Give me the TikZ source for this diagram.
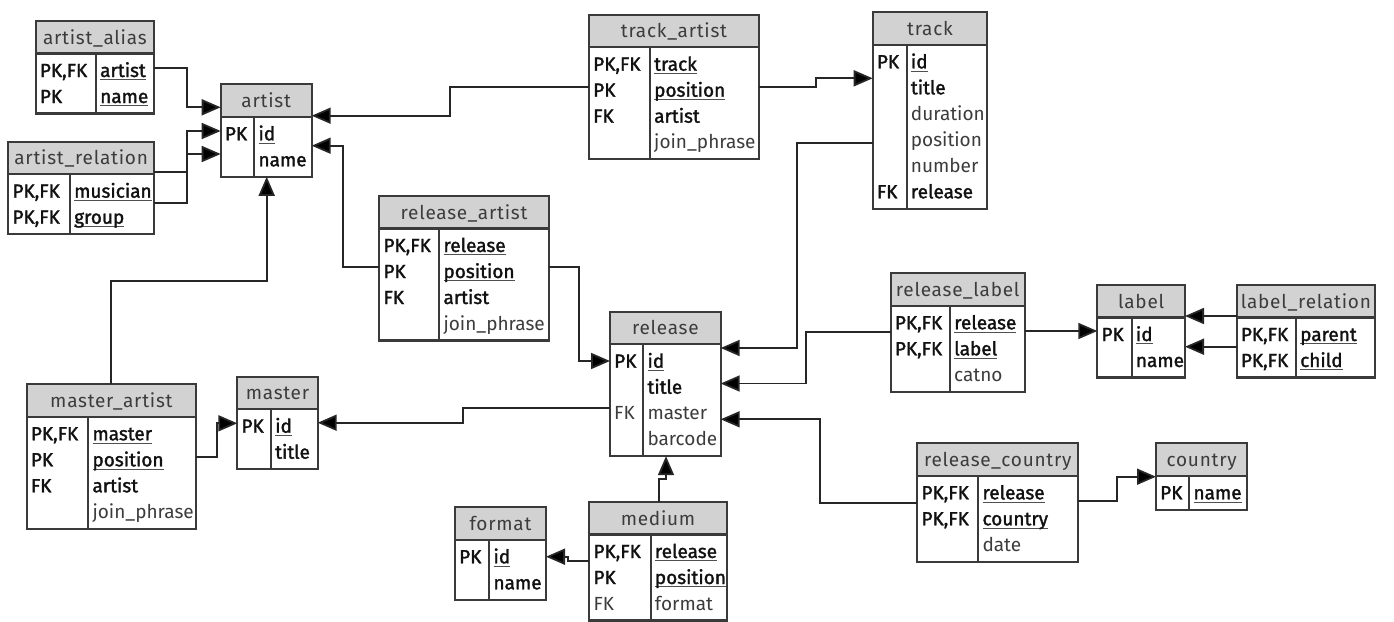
\documentclass[tikz,border=0pt]{standalone}
\usepackage{fontspec}
\setmainfont{Fira Sans}
\newfontfamily\titlefont[LetterSpace=4]{Fira Sans}
\newfontfamily\medfont[FakeBold=1.6]{Fira Sans}
\usetikzlibrary{arrows.meta}

\definecolor{headfill}{HTML}{D2D2D2}
\definecolor{framecol}{HTML}{3A3A3A}
\definecolor{linkcol}{HTML}{262626}
\definecolor{txtreg}{HTML}{3C3C3C}
\definecolor{txtbold}{HTML}{111111}
\definecolor{ulcol}{HTML}{505050}

% underlined primary-key field
\newcommand\fieldul[1]{\setbox0\hbox{#1}\rlap{\color{ulcol}\rule[-3.4pt]{\wd0}{1.1pt}}\box0}

\tikzset{
  tablebox/.style={fill=white, inner sep=0pt, outer sep=0pt},
  frameline/.style={draw=framecol, line width=2.2pt},
  tabtitle/.style={font=\fontsize{19}{22}\titlefont, text=txtreg, inner sep=0pt, anchor=base},
  rowtxt/.style={font=\fontsize{19}{22}\selectfont, inner sep=0pt, anchor=base west},
  rowu/.style={text=txtbold, font=\fontsize{19}{22}\medfont},
  rowb/.style={text=txtbold, font=\fontsize{19}{22}\medfont},
  rowr/.style={text=txtreg},
  fk/.style={draw=linkcol, line width=1.8pt,
    -{Triangle[length=19pt 0 0, width=16pt 0 0, fill=black]}},
}

% table: name, title, left, top, right, divider, number of rows
\newcommand\ertable[7]{%
  \pgfmathsetmacro\erH{#4+32.5}%
  \pgfmathsetmacro\erB{\erH+26*#7+8}%
  \def\erN{#1}\def\erL{#3}\def\erD{#6}%
  \node[tablebox, anchor=north west, minimum width={(#5-#3)*1pt},
        minimum height={(\erB-#4)*1pt}] (#1) at (#3,#4) {};
  \fill[headfill] (#3,#4) rectangle (#5,\erH);
  \draw[frameline] (#3,\erH) -- (#5,\erH) (#6,\erH) -- (#6,\erB);
  \draw[frameline] (#1.north west) rectangle (#1.south east);
  \node[tabtitle] (#1-title) at ({(#3+#5)/2},{#4+23}) {#2};
}
% row: index, key, field, style (u = key field, b = required, r = plain)
\newcommand\erow[4]{%
  \pgfmathsetmacro\erY{\erH+23.5+26*(#1-1)}%
  \node[rowtxt, row#4] (\erN-k#1) at ({\erL+4},\erY) {#2};
  \node[rowtxt, row#4] (\erN-f#1) at ({\erD+4},\erY) {\ifx u#4\fieldul{#3}\else #3\fi};
}

\begin{document}
\begin{tikzpicture}[x=1pt, y=-1pt]
\useasboundingbox (0,0) rectangle (1394,621);

\ertable{artist_alias}{artist\_alias}{35.7}{21}{154}{96}{2}
\erow1{PK,FK}{artist}u
\erow2{PK}{name}u

\ertable{artist}{artist}{220.7}{84.3}{311.7}{254.3}{2}
\erow1{PK}{id}u
\erow2{}{name}b

\ertable{artist_relation}{artist\_relation}{8.3}{141.7}{154}{70}{2}
\erow1{PK,FK}{musician}u
\erow2{PK,FK}{group}u

\ertable{track_artist}{track\_artist}{589}{14.7}{759}{650}{4}
\erow1{PK,FK}{track}u
\erow2{PK}{position}u
\erow3{FK}{artist}b
\erow4{}{join\_phrase}r

\ertable{track}{track}{872.7}{12.3}{987.3}{906.7}{6}
\erow1{PK}{id}u
\erow2{}{title}b
\erow3{}{duration}r
\erow4{}{position}r
\erow5{}{number}r
\erow6{FK}{release}b

\ertable{release_artist}{release\_artist}{379.3}{196}{548.7}{439.3}{4}
\erow1{PK,FK}{release}u
\erow2{PK}{position}u
\erow3{FK}{artist}b
\erow4{}{join\_phrase}r

\ertable{release}{release}{610}{311.7}{720.7}{643.3}{4}
\erow1{PK}{id}u
\erow2{}{title}b
\erow3{FK}{master}r
\erow4{}{barcode}r

\ertable{master_artist}{master\_artist}{26.7}{384.3}{196}{88.3}{4}
\erow1{PK,FK}{master}u
\erow2{PK}{position}u
\erow3{FK}{artist}b
\erow4{}{join\_phrase}r

\ertable{master}{master}{237.3}{376.7}{317.7}{271}{2}
\erow1{PK}{id}u
\erow2{}{title}b

\ertable{format}{format}{455}{507.3}{546}{489.3}{2}
\erow1{PK}{id}u
\erow2{}{name}b

\ertable{medium}{medium}{589.3}{502}{726.7}{650.7}{3}
\erow1{PK,FK}{release}u
\erow2{PK}{position}u
\erow3{FK}{format}r

\ertable{release_label}{release\_label}{890.7}{273.3}{1024.7}{950}{3}
\erow1{PK,FK}{release}u
\erow2{PK,FK}{label}u
\erow3{}{catno}r

\ertable{label}{label}{1097.3}{285}{1185}{1131.7}{2}
\erow1{PK}{id}u
\erow2{}{name}b

\ertable{label_relation}{label\_relation}{1236.7}{285}{1375}{1296}{2}
\erow1{PK,FK}{parent}u
\erow2{PK,FK}{child}u

\ertable{release_country}{release\_country}{917.3}{443.3}{1078.3}{978.3}{3}
\erow1{PK,FK}{release}u
\erow2{PK,FK}{country}u
\erow3{}{date}r

\ertable{country}{country}{1156}{443.3}{1247.3}{1189.3}{1}
\erow1{PK}{name}u

% foreign-key connectors
\draw[fk] (artist_alias.east |- 0,68.3) -- (186.7,68.3) |- (artist.west |- 0,107.3);
\draw[fk] (artist_relation.east |- 0,172.3) -- (186.7,172.3) |- (artist.west |- 0,131);
\draw[fk] (artist_relation.east |- 0,203.3) -- (186.7,203.3) |- (artist.west |- 0,154);
\draw[fk] (track_artist.west |- 0,87.3) -- (450,87.3) |- (artist.east |- 0,115.7);
\draw[fk] (release_artist.west |- 0,266.7) -- (343.3,266.7) |- (artist.east |- 0,145.7);
\draw[fk] (master_artist.north -| 111,0) |- (266.7,281) -- (artist.south -| 266.7,0);
\draw[fk] (track_artist.east |- 0,87.3) -- (816,87.3) |- (track.west |- 0,78.3);
\draw[fk] (track.west |- 0,142.7) -- (796.7,142.7) |- (release.east |- 0,348);
\draw[fk] (release_artist.east |- 0,266.7) -- (578.7,266.7) |- (release.west |- 0,361);
\draw[fk] (release.west |- 0,408.3) -- (463.3,408.3) |- (master.east |- 0,422.7);
\draw[fk] (master_artist.east |- 0,456.7) -- (216.7,456.7) |- (master.west |- 0,423.3);
\draw[fk] (medium.north -| 659,0) |- (666,479.3) -- (release.south -| 666,0);
\draw[fk] (medium.west |- 0,561) -- (568.3,561) |- (format.east |- 0,556.7);
\draw[fk] (release_label.west |- 0,332.3) -- (806,332.3) |- (release.east |- 0,383.5);
\draw[fk] (release_country.west |- 0,502.7) -- (820,502.7) |- (release.east |- 0,419.3);
\draw[fk] (release_label.east |- 0,331) -- (label.west |- 0,331);
\draw[fk] (label_relation.west |- 0,316) -- (label.east |- 0,316);
\draw[fk] (label_relation.west |- 0,346.7) -- (label.east |- 0,346.7);
\draw[fk] (release_country.east |- 0,501) -- (1117.3,501) |- (country.west |- 0,476.7);
\end{tikzpicture}
\end{document}
